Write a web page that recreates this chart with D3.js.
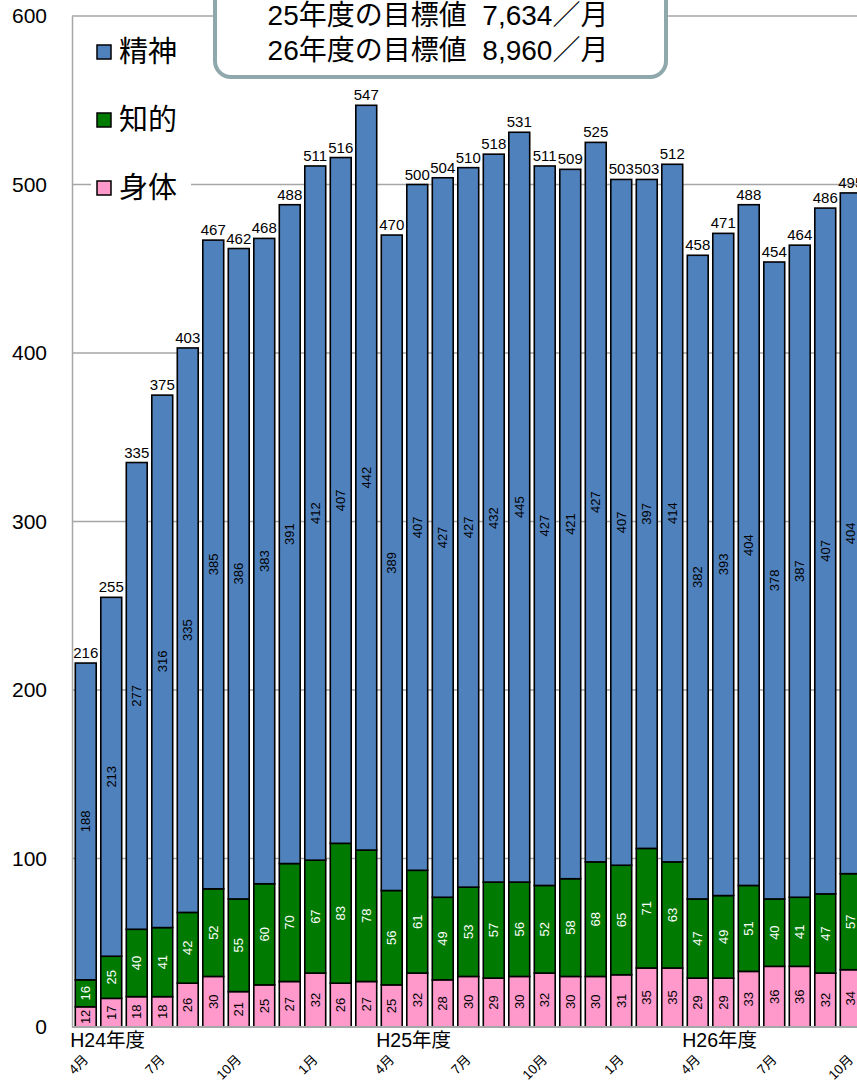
<!DOCTYPE html>
<html>
<head>
<meta charset="utf-8">
<script src="https://cdn.jsdelivr.net/npm/d3@7"></script>
<style>
  body { margin: 0; background: #ffffff; }
  svg { display: block; font-family: "Liberation Sans", Arial, "Noto Sans CJK JP", sans-serif; }
</style>
</head>
<body>
<div id="chart"></div>
<script>
// Months (H24 Apr .. H26 Oct)
var months = ["4月","5月","6月","7月","8月","9月","10月","11月","12月","1月","2月","3月",
  "4月","5月","6月","7月","8月","9月","10月","11月","12月","1月","2月","3月",
  "4月","5月","6月","7月","8月","9月","10月"];

// Series values
var physical = [12,17,18,18,26,30,21,25,27,32,26,27,25,32,28,30,29,30,32,30,30,31,35,35,29,29,33,36,36,32,34];
var intellectual = [16,25,40,41,42,52,55,60,70,67,83,78,56,61,49,53,57,56,52,58,68,65,71,63,47,49,51,40,41,47,57];
var mental = [188,213,277,316,335,385,386,383,391,412,407,442,389,407,427,427,432,445,427,421,427,407,397,414,382,393,404,378,387,407,404];

// Tick labels
var y_ticks = [0,100,200,300,400,500,600];
var month_tick_index = [0,3,6,9,12,15,18,21,24,27,30];
var year_labels = [{i: 0, text: "H24年度"}, {i: 12, text: "H25年度"}, {i: 24, text: "H26年度"}];
var legend_names = ["精神", "知的", "身体"];
var target_lines = ["25年度の目標値\u00a0\u00a07,634／月", "26年度の目標値\u00a0\u00a08,960／月"];

var svg_width = 857;
var svg_height = 1084;

var svg = d3.select("#chart")
  .append("svg")
  .attr("width", svg_width)
  .attr("height", svg_height);

// Build stacked rows
var rows = months.map(function(m, i) {
  return {idx: i, month: m, physical: physical[i], intellectual: intellectual[i], mental: mental[i]};
});
var keys = ["physical", "intellectual", "mental"];
var colors = {physical: "#ff99cc", intellectual: "#007a00", mental: "#4f81bd"};
var label_colors = {physical: "#000000", intellectual: "#ffffff", mental: "#000000"};
var stacked = d3.stack().keys(keys)(rows);

// Scales
var x_scale = d3.scaleBand()
  .domain(d3.range(months.length))
  .range([73, 73 + months.length * 25.5])
  .paddingInner(0.18)
  .paddingOuter(0.09);

var y_scale = d3.scaleLinear()
  .domain([0, 600])
  .range([1027, 16]);

// Gridlines
svg.append("g")
  .selectAll("line")
  .data(y_ticks.filter(d => d > 0))
  .enter()
  .append("line")
  .attr("x1", 72)
  .attr("x2", svg_width)
  .attr("y1", d => y_scale(d))
  .attr("y2", d => y_scale(d))
  .attr("stroke", "#a6a6a6")
  .attr("stroke-width", 1.5);

// Y axis
var y_axis = svg.append("g")
  .attr("transform", "translate(72,0)")
  .call(d3.axisLeft(y_scale).tickValues(y_ticks).tickSize(0).tickPadding(25));
y_axis.select(".domain").attr("stroke", "#a6a6a6").attr("stroke-width", 1.5);
y_axis.selectAll("text")
  .attr("font-size", "21px")
  .attr("font-family", "Liberation Sans, Arial, sans-serif")
  .attr("fill", "#000");

// Bars
var layers = svg.append("g")
  .selectAll("g")
  .data(stacked)
  .enter()
  .append("g")
  .attr("fill", d => colors[d.key]);

layers.selectAll("rect")
  .data(d => d)
  .enter()
  .append("rect")
  .attr("x", d => x_scale(d.data.idx))
  .attr("y", d => y_scale(d[1]))
  .attr("width", x_scale.bandwidth())
  .attr("height", d => y_scale(d[0]) - y_scale(d[1]))
  .attr("stroke", "#000")
  .attr("stroke-width", 1.6);

// X axis line
svg.append("line")
  .attr("x1", 72)
  .attr("x2", svg_width)
  .attr("y1", y_scale(0))
  .attr("y2", y_scale(0))
  .attr("stroke", "#a6a6a6")
  .attr("stroke-width", 2);

// Segment labels (rotated)
stacked.forEach(function(layer) {
  svg.append("g")
    .selectAll("text")
    .data(layer)
    .enter()
    .append("text")
    .attr("transform", function(d) {
      var cx = x_scale(d.data.idx) + x_scale.bandwidth() / 2;
      var cy = (y_scale(d[0]) + y_scale(d[1])) / 2;
      return `translate(${cx + 4.5},${cy}) rotate(-90)`;
    })
    .attr("text-anchor", "middle")
    .attr("font-size", "13px")
    .attr("fill", label_colors[layer.key])
    .text(d => d[1] - d[0]);
});

// Total labels
svg.append("g")
  .selectAll("text")
  .data(rows)
  .enter()
  .append("text")
  .attr("x", d => x_scale(d.idx) + x_scale.bandwidth() / 2)
  .attr("y", d => y_scale(d.physical + d.intellectual + d.mental) - 5)
  .attr("text-anchor", "middle")
  .attr("font-size", "15px")
  .attr("fill", "#000")
  .text(d => d.physical + d.intellectual + d.mental);

// Year labels
svg.append("g")
  .selectAll("text")
  .data(year_labels)
  .enter()
  .append("text")
  .attr("x", d => x_scale(d.i) - 5)
  .attr("y", 1047)
  .attr("font-size", "19.5px")
  .attr("fill", "#000")
  .text(d => d.text);

// Month labels (rotated, reading up to the right)
svg.append("g")
  .selectAll("text")
  .data(month_tick_index)
  .enter()
  .append("text")
  .attr("transform", d => `translate(${x_scale(d) + x_scale.bandwidth() / 2},${1057}) rotate(-45)`)
  .attr("text-anchor", "end")
  .attr("dy", "0.35em")
  .attr("font-size", "13.5px")
  .attr("fill", "#000")
  .text(d => months[d]);

// Legend
var legend = svg.append("g")
  .selectAll("g")
  .data(legend_names)
  .enter()
  .append("g")
  .attr("transform", (d, i) => `translate(97,${52 + i * 68})`);

legend.append("rect")
  .attr("x", -6)
  .attr("y", -18)
  .attr("width", 100)
  .attr("height", 36)
  .attr("fill", "#ffffff");

legend.append("rect")
  .attr("x", 0)
  .attr("y", -7)
  .attr("width", 14)
  .attr("height", 14)
  .attr("fill", (d, i) => colors[["mental", "intellectual", "physical"][i]])
  .attr("stroke", "#000")
  .attr("stroke-width", 1.5);

legend.append("text")
  .attr("x", 22)
  .attr("y", 0)
  .attr("dy", "0.36em")
  .attr("font-size", "29px")
  .attr("font-family", "Noto Sans CJK JP")
  .attr("fill", "#000")
  .text(d => d);

// Target box
svg.append("rect")
  .attr("x", 215)
  .attr("y", -30)
  .attr("width", 451)
  .attr("height", 107)
  .attr("rx", 16)
  .attr("fill", "#ffffff")
  .attr("stroke", "#8ea8ab")
  .attr("stroke-width", 4);

svg.append("g")
  .selectAll("text")
  .data(target_lines)
  .enter()
  .append("text")
  .attr("x", 438)
  .attr("y", (d, i) => 25 + i * 35)
  .attr("text-anchor", "middle")
  .attr("font-size", "28px")
  .attr("fill", "#000")
  .text(d => d);
</script>
</body>
</html>
